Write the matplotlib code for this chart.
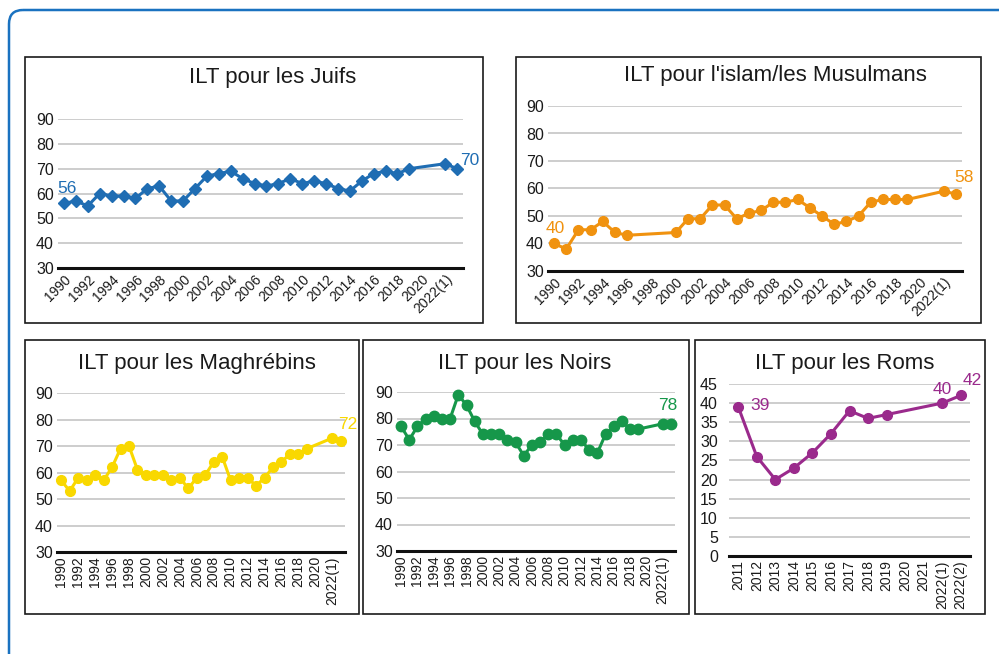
import matplotlib
matplotlib.use("Agg")
import matplotlib.pyplot as plt
from matplotlib import font_manager as fm
from matplotlib.patches import Rectangle, FancyBboxPatch

W, H = 999, 654

# categories
years = [str(y) for y in range(1990, 2022)] + ["2022(1)", "2022(2)"]
roms_years = [str(y) for y in range(2011, 2022)] + ["2022(1)", "2022(2)"]

# values (None = no survey that year)
juifs = [56, 57, 55, 60, 59, 59, 58, 62, 63, 57,
         57, 62, 67, 68, 69, 66, 64, 63, 64, 66,
         64, 65, 64, 62, 61, 65, 68, 69, 68, 70,
         None, None, 72, 70]
musulmans = [40, 38, 45, 45, 48, 44, 43, None, None, None,
             44, 49, 49, 54, 54, 49, 51, 52, 55, 55,
             56, 53, 50, 47, 48, 50, 55, 56, 56, 56,
             None, None, 59, 58]
maghrebins = [57, 53, 58, 57, 59, 57, 62, 69, 70, 61,
              59, 59, 59, 57, 58, 54, 58, 59, 64, 66,
              57, 58, 58, 55, 58, 62, 64, 67, 67, 69,
              None, None, 73, 72]
noirs = [77, 72, 77, 80, 81, 80, 80, 89, 85, 79,
         74, 74, 74, 72, 71, 66, 70, 71, 74, 74,
         70, 72, 72, 68, 67, 74, 77, 79, 76, 76,
         None, None, 78, 78]
roms = [39, 26, 20, 23, 27, 32, 38, 36, 37, None, None, 40, 42]

installed = {f.name for f in fm.fontManager.ttflist}
title_font = "Liberation Sans Narrow" if "Liberation Sans Narrow" in installed else "Liberation Sans"
plt.rcParams["font.family"] = ["Liberation Sans", "DejaVu Sans"]

fig = plt.figure(figsize=(W / 100, H / 100), dpi=100)
bg = fig.add_axes([0, 0, 1, 1])
bg.set_xlim(0, W)
bg.set_ylim(H, 0)
bg.axis("off")

# outer rounded frame, runs off the page on the right and bottom
bg.add_patch(FancyBboxPatch((9, 10), 1100, 700, boxstyle="round,pad=0,rounding_size=14",
                            fill=False, ec="#1a72c0", lw=1.8))


def px_axes(l, t, r, b):
    return fig.add_axes([l / W, 1 - b / H, (r - l) / W, (b - t) / H])


def panel(box, area, title, title_xy, cats, vals, color, marker, ms, ylim, yticks,
          step, rot, labels, ypad=3):
    l, t, r, b = box
    bg.add_patch(Rectangle((l, t), r - l, b - t, fill=False, ec="#1a1a1a", lw=1.2))
    bg.text(title_xy[0], title_xy[1], title, ha="center", va="center",
            fontsize=16, family=[title_font, "DejaVu Sans"], color="#1a1a1a")
    ax = px_axes(*area)
    xs = [i for i, v in enumerate(vals) if v is not None]
    ys = [v for v in vals if v is not None]
    ax.plot(xs, ys, color=color, lw=2.2, marker=marker, ms=ms, clip_on=False, zorder=3)
    ax.set_xlim(-0.5, len(cats) - 0.5)
    ax.set_ylim(*ylim)
    ax.set_yticks(yticks)
    ax.set_yticklabels([str(v) for v in yticks], fontsize=11.5, color="#1a1a1a")
    ax.grid(axis="y", color="#c0c0c0", lw=1.1)
    ax.set_axisbelow(True)
    for s in ["left", "right", "top"]:
        ax.spines[s].set_visible(False)
    ax.spines["bottom"].set_linewidth(2.2)
    ax.spines["bottom"].set_color("#111111")
    ax.tick_params(axis="x", length=0, pad=3)
    ax.tick_params(axis="y", length=0, pad=ypad)
    ticks = list(range(0, len(cats), step))
    ax.set_xticks(ticks)
    if rot == 45:
        ax.set_xticklabels([cats[i] for i in ticks], rotation=45, ha="right",
                           rotation_mode="anchor", fontsize=10, color="#1a1a1a")
    else:
        ax.set_xticklabels([cats[i] for i in ticks], rotation=90, ha="center",
                           va="top", fontsize=10, color="#1a1a1a")
    for idx, dx, dy in labels:
        ax.annotate(str(vals[idx]), (idx, vals[idx]), xytext=(dx, dy),
                    textcoords="offset points", ha="center", va="center",
                    fontsize=12.5, color=color)
    return ax


ten = [30, 40, 50, 60, 70, 80, 90]

panel((25, 57, 483, 323), (58, 119, 463, 268), "ILT pour les Juifs", (273, 77),
      years, juifs, "#1f6db3", "D", 6.5, (30, 90), ten, 2, 45,
      [(0, 2, 11), (33, 9, 6)])
panel((516, 57, 981, 323), (548, 106, 962, 271), "ILT pour l'islam/les Musulmans", (775, 75),
      years, musulmans, "#f0920f", "o", 7, (30, 90), ten, 2, 45,
      [(0, 1, 11), (33, 6, 12)])
panel((25, 340, 359, 614), (57, 393, 345, 552), "ILT pour les Maghrébins", (197, 363),
      years, maghrebins, "#f9d800", "o", 7, (30, 90), ten, 2, 90,
      [(33, 5, 12)])
panel((363, 340, 689, 614), (397, 392, 675, 551), "ILT pour les Noirs", (525, 363),
      years, noirs, "#16974a", "o", 7.5, (30, 90), ten, 2, 90,
      [(33, -2, 13)])
panel((695, 340, 985, 614), (729, 384, 970, 556), "ILT pour les Roms", (845, 363),
      roms_years, roms, "#9a2a8c", "o", 7, (0, 45), list(range(0, 50, 5)), 1, 90,
      [(0, 16, 1), (11, 0, 10), (12, 8, 11)], ypad=8)

fig.savefig("out.png", dpi=100)
